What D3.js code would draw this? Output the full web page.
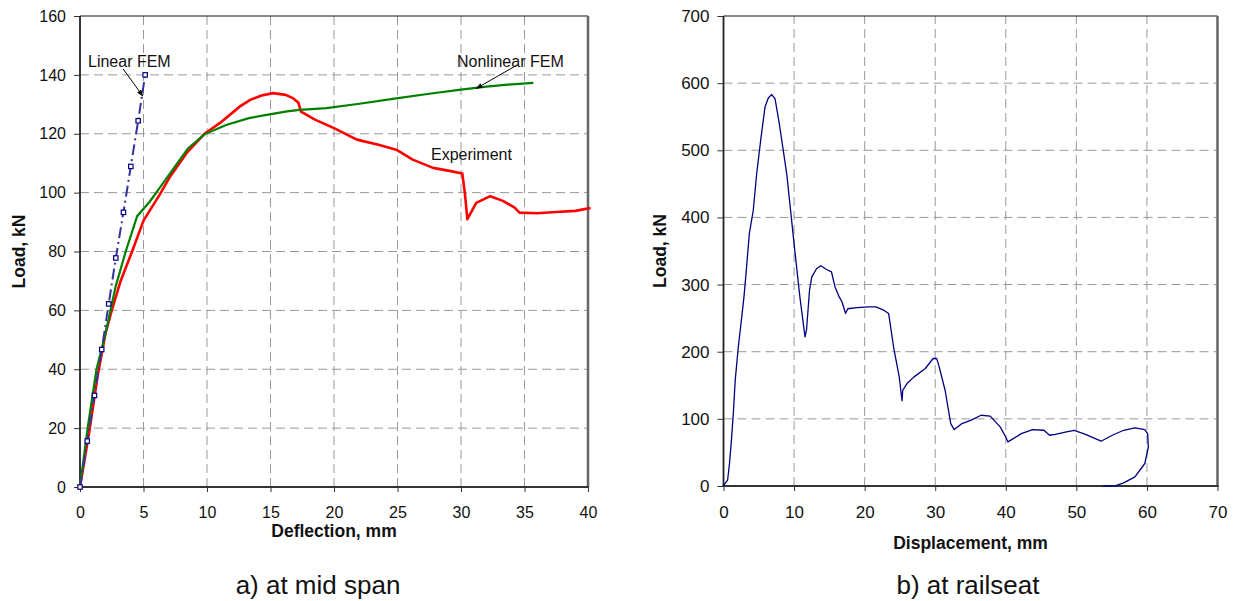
<!DOCTYPE html>
<html lang="en">
<head>
<meta charset="UTF-8">
<title>Load - deflection</title>
<script src="https://d3js.org/d3.v7.min.js"></script>
<style>
  body { margin: 0; background: #fff; }
  svg { font-family: "Liberation Sans", Arial, sans-serif; }
</style>
</head>
<body>
<svg id="chart" width="1237" height="601"></svg>
<script>
  // a) at mid span : [deflection mm, load kN]
  const linearFem = [
    [0, 0], [0.57, 15.6], [1.14, 31.1], [1.71, 46.7], [2.26, 62.2],
    [2.82, 77.8], [3.42, 93.3], [4.0, 108.9], [4.58, 124.4], [5.13, 140]
  ]
  const nonlinearFem = [
    [0, 0], [0.6, 20], [1.3, 40], [2.0, 52], [2.4, 60], [2.8, 68], [3.6, 80], [4.5, 92],
    [5.5, 97], [6.5, 103], [7.5, 109], [8.5, 115], [9.8, 119.8], [11.5, 123],
    [13.3, 125.3], [14.7, 126.4], [16.3, 127.6], [17.3, 128.1], [19.4, 128.7],
    [22, 130.2], [24.9, 132], [27.5, 133.6], [30, 135], [32, 136], [34, 136.8], [35.7, 137.3]
  ]
  const experiment = [
    [0, 0], [0.7, 18], [1.4, 38], [2.0, 52], [2.5, 60], [3.2, 70], [4.1, 80], [5.0, 90.5],
    [6.3, 99.5], [7.1, 105.5], [8.4, 113.5], [9.8, 120], [11, 123.6], [12.6, 129.3],
    [13.4, 131.5], [14.3, 133], [15.2, 133.8], [16.2, 133.2], [16.8, 132], [17.2, 130.5],
    [17.4, 127.5], [18.5, 124.8], [20, 121.9], [21.8, 118], [23.5, 116.3], [24.9, 114.6],
    [26.2, 111.2], [27.8, 108.4], [29.2, 107.3], [30.1, 106.5], [30.3, 100], [30.5, 91],
    [31.2, 96.5], [32.3, 98.8], [33.3, 97.2], [34.2, 95], [34.6, 93.2], [36, 93],
    [37.5, 93.4], [39, 93.8], [40.2, 94.8]
  ]

  // b) at railseat : [displacement mm, load kN]
  const railseat = [
    [0, 0], [0.15, 2.7], [0.58, 8.6], [0.85, 33.5], [1.12, 68], [1.39, 108], [1.66, 157.6],
    [2.1, 207], [2.64, 257], [2.9, 281.6], [3.19, 316], [3.66, 376], [4.22, 410.7],
    [4.7, 465], [5.27, 515], [5.88, 564.5], [6.35, 578], [6.83, 583], [7.3, 577],
    [7.63, 557], [7.9, 540], [8.96, 465], [10.1, 351], [10.84, 280], [11.55, 222],
    [11.76, 232], [12.19, 291.6], [12.5, 311], [13.2, 324], [13.8, 328], [14.6, 322.4],
    [15.3, 318.8], [15.8, 296.5], [16.4, 281.6], [16.8, 274], [17.3, 257], [17.6, 264],
    [18.9, 265.8], [20.6, 266.7], [21.6, 266.7], [22.7, 261.8], [23.4, 257], [24.1, 207],
    [24.9, 162.5], [25.3, 127], [25.4, 142.6], [26, 152.6], [27, 162.5], [28.6, 175],
    [29.7, 189.9], [30.2, 190], [30.5, 180], [31.4, 142.6], [32.2, 93], [32.7, 84],
    [33.8, 93], [35.1, 98], [36.5, 105.4], [37.8, 104], [39.2, 88], [40, 73], [40.3, 65.7],
    [42.2, 78], [43.8, 84], [45.4, 83], [46.2, 75.6], [47, 77], [48.6, 80.6], [49.7, 83],
    [51.3, 77], [53.5, 66.7], [55.1, 75.6], [56.7, 83], [58.3, 86.5], [59.7, 84],
    [60.1, 78], [60.2, 58], [59.7, 33.5], [58.3, 13.6], [56.7, 4.6], [55.6, 0.5], [53.8, 0]
  ]

  const leftXTicks = [0, 5, 10, 15, 20, 25, 30, 35, 40]
  const leftYTicks = [0, 20, 40, 60, 80, 100, 120, 140, 160]
  const rightXTicks = [0, 10, 20, 30, 40, 50, 60, 70]
  const rightYTicks = [0, 100, 200, 300, 400, 500, 600, 700]

  const svg = d3.select('#chart')

  // 축, 격자, 틀을 그리는 공통 함수
  function drawFrame(x, y, xTicks, yTicks, fontSize) {
    const g = svg.append('g')
    const [x0, x1] = x.range()
    const [y0, y1] = y.range()

    // 점선 격자
    g.append('g').selectAll('line').data(xTicks.slice(1, -1)).join('line')
      .attr('x1', d => x(d)).attr('x2', d => x(d))
      .attr('y1', y0).attr('y2', y1)
      .attr('stroke', '#999').attr('stroke-dasharray', '9,5')
    g.append('g').selectAll('line').data(yTicks.slice(1, -1)).join('line')
      .attr('x1', x0).attr('x2', x1)
      .attr('y1', d => y(d)).attr('y2', d => y(d))
      .attr('stroke', '#999').attr('stroke-dasharray', '9,5')

    const xAxis = g.append('g')
      .attr('transform', `translate(0,${y0})`)
      .call(d3.axisBottom(x).tickValues(xTicks).tickSize(5).tickPadding(15).tickFormat(d3.format('d')))
    const yAxis = g.append('g')
      .attr('transform', `translate(${x0},0)`)
      .call(d3.axisLeft(y).tickValues(yTicks).tickSize(6).tickPadding(8).tickFormat(d3.format('d')))
    for (const a of [xAxis, yAxis]) {
      a.select('.domain').remove()
      a.selectAll('.tick line').attr('stroke', '#333')
      a.selectAll('text').attr('fill', '#111')
        .style('font-size', fontSize + 'px')
        .style('font-family', '"Liberation Sans", Arial, sans-serif')
    }

    // 틀
    g.append('line').attr('x1', x0).attr('x2', x1).attr('y1', y1).attr('y2', y1)
      .attr('stroke', '#111').attr('stroke-width', 1.2)
    g.append('line').attr('x1', x1).attr('x2', x1).attr('y1', y1).attr('y2', y0)
      .attr('stroke', '#666').attr('stroke-width', 2.5)
    g.append('line').attr('x1', x0 - 1).attr('x2', x1 + 1).attr('y1', y0).attr('y2', y0)
      .attr('stroke', '#333').attr('stroke-width', 2)
    g.append('line').attr('x1', x0).attr('x2', x0).attr('y1', y1).attr('y2', y0)
      .attr('stroke', '#222').attr('stroke-width', 1.8)
    return g
  }

  function axisTitles(x, y, xTitle, xTitleY, yTitleX, caption) {
    const cx = (x.range()[0] + x.range()[1]) / 2
    const cy = (y.range()[0] + y.range()[1]) / 2
    svg.append('text').attr('x', cx).attr('y', xTitleY)
      .attr('text-anchor', 'middle').attr('font-weight', 'bold').attr('font-size', 17.5)
      .attr('fill', '#111').text(xTitle)
    svg.append('text')
      .attr('transform', `translate(${yTitleX},${cy}) rotate(-90)`)
      .attr('text-anchor', 'middle').attr('dy', '0.35em')
      .attr('font-weight', 'bold').attr('font-size', 17.5)
      .attr('fill', '#111').text('Load, kN')
    svg.append('text').attr('x', caption.x).attr('y', 594)
      .attr('text-anchor', 'middle').attr('font-size', 26)
      .attr('fill', '#111').text(caption.text)
  }

  // 화살표 머리
  svg.append('defs').append('marker')
    .attr('id', 'arrow').attr('viewBox', '0 0 10 10')
    .attr('refX', 9).attr('refY', 5)
    .attr('markerWidth', 7).attr('markerHeight', 7)
    .attr('orient', 'auto-start-reverse')
    .append('path').attr('d', 'M0,1.5 L10,5 L0,8.5 Z').attr('fill', '#000')

  // ---------- a) at mid span ----------
  const xL = d3.scaleLinear().domain([0, 40]).range([80, 588])
  const yL = d3.scaleLinear().domain([0, 160]).range([487, 16])
  drawFrame(xL, yL, leftXTicks, leftYTicks, 16)

  const lineL = d3.line().x(d => xL(d[0])).y(d => yL(d[1]))

  svg.append('path').datum(experiment)
    .attr('d', lineL).attr('fill', 'none')
    .attr('stroke', '#ff0000').attr('stroke-width', 2.6)
    .attr('stroke-linejoin', 'round')

  svg.append('path').datum(nonlinearFem)
    .attr('d', lineL).attr('fill', 'none')
    .attr('stroke', '#008000').attr('stroke-width', 2.2)

  svg.append('path').datum(linearFem)
    .attr('d', lineL).attr('fill', 'none')
    .attr('stroke', '#333399').attr('stroke-width', 2)
    .attr('stroke-dasharray', '11,4,2,4')
  svg.append('g').selectAll('rect').data(linearFem).join('rect')
    .attr('x', d => xL(d[0]) - 2.2).attr('y', d => yL(d[1]) - 2.2)
    .attr('width', 4.4).attr('height', 4.4)
    .attr('fill', '#fff').attr('stroke', '#000080').attr('stroke-width', 1.2)

  // 주석
  const notes = [
    { text: 'Linear FEM', x: 88, y: 67, from: [3.4, 142], to: [4.95, 132.8] },
    { text: 'Nonlinear FEM', x: 457, y: 67, from: [34.4, 143.3], to: [31.2, 135.4] },
    { text: 'Experiment', x: 431, y: 160 }
  ]
  for (const n of notes) {
    svg.append('text').attr('x', n.x).attr('y', n.y)
      .attr('font-size', 16).attr('fill', '#111').text(n.text)
    if (n.from) {
      svg.append('line')
        .attr('x1', xL(n.from[0])).attr('y1', yL(n.from[1]))
        .attr('x2', xL(n.to[0])).attr('y2', yL(n.to[1]))
        .attr('stroke', '#000').attr('stroke-width', 1)
        .attr('marker-end', 'url(#arrow)')
    }
  }
  axisTitles(xL, yL, 'Deflection, mm', 537, 19, { x: 318, text: 'a) at mid span' })

  // ---------- b) at railseat ----------
  const xR = d3.scaleLinear().domain([0, 70]).range([723.5, 1217.5])
  const yR = d3.scaleLinear().domain([0, 700]).range([486, 16])
  drawFrame(xR, yR, rightXTicks, rightYTicks, 17)

  svg.append('path').datum(railseat)
    .attr('d', d3.line().x(d => xR(d[0])).y(d => yR(d[1])))
    .attr('fill', 'none').attr('stroke', '#000080').attr('stroke-width', 1.3)
    .attr('stroke-linejoin', 'round')

  axisTitles(xR, yR, 'Displacement, mm', 549, 660, { x: 968, text: 'b) at railseat' })
</script>
</body>
</html>
